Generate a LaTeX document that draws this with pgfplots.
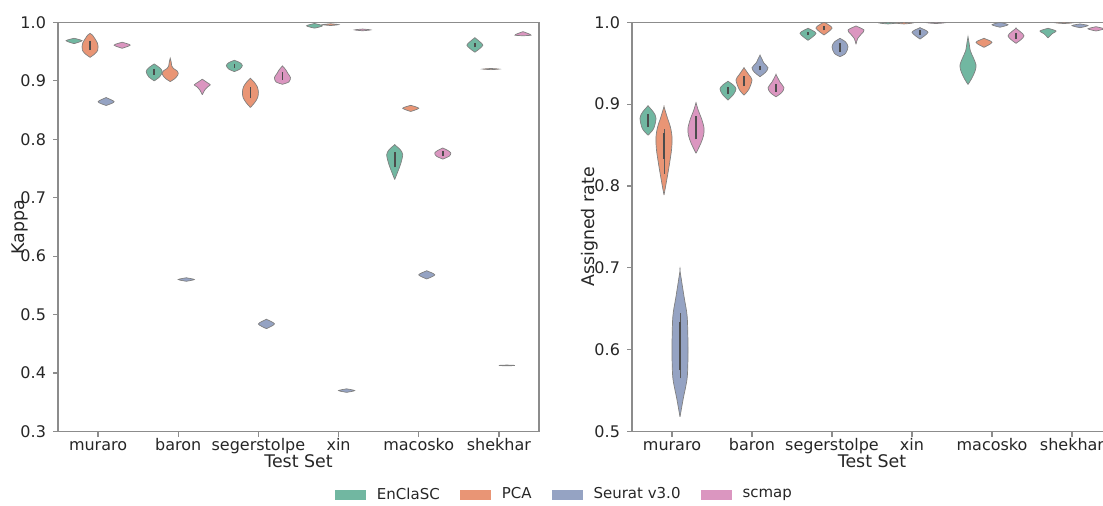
\documentclass[border=0pt]{standalone}
\usepackage{fontspec}
\setmainfont{DejaVu Sans}
\usepackage{pgfplots}
\pgfplotsset{compat=1.18}

\definecolor{cA}{RGB}{113,183,161}
\definecolor{cB}{RGB}{233,149,117}
\definecolor{cC}{RGB}{149,163,195}
\definecolor{cD}{RGB}{219,150,192}
\definecolor{txt}{RGB}{38,38,38}
\definecolor{spine}{RGB}{140,140,140}

% #1 centre x, #2 fill colour, #3 profile y/halfwidth from bottom tip to top tip
\newcommand\violin[3]{%
  \gdef\vR{}\gdef\vL{}%
  \foreach \yy/\ww in {#3}{%
    \pgfmathsetmacro\xr{#1+\ww}\pgfmathsetmacro\xl{#1-\ww}%
    \xdef\vR{\vR(\xr,\yy)}\xdef\vL{(\xl,\yy)\vL}}%
  \edef\vcmd{\noexpand\addplot[violin, fill=#2] coordinates {\vR\vL};}\vcmd}
% inner box: interquartile bar and whiskers
\newcommand\vbar[3]{\addplot[iqr] coordinates {(#1,#2) (#1,#3)};}
\newcommand\vwhisk[3]{\addplot[whisk] coordinates {(#1,#2) (#1,#3)};}

\pgfplotsset{
  panel/.style={
    scale only axis, height=204.6pt,
    xmin=-0.5, xmax=5.5,
    xtick={0,...,5}, xticklabels={muraro,baron,segerstolpe,xin,macosko,shekhar},
    tick align=outside, tick pos=left,
    major tick length=2.5pt,
    every tick/.append style={spine, line width=0.6pt},
    axis line style={spine, line width=0.6pt},
    tick label style={font=\fontsize{8}{9.6}\selectfont, text=txt},
    xticklabel style={text height=5.9pt, text depth=1.6pt, inner sep=0pt, anchor=north, yshift=-0.9pt},
    label style={font=\fontsize{8.7}{10.4}\selectfont, text=txt},
    /pgf/number format/assume math mode=true,
    yticklabel style={/pgf/number format/fixed, /pgf/number format/fixed zerofill, /pgf/number format/precision=1},
    xlabel={Test Set},
    xlabel style={at={(axis description cs:0.5,-0.073)}, anchor=center},
  },
  violin/.style={draw=black!50, line width=0.35pt, smooth, tension=0.5},
  iqr/.style={draw=black!70, line width=0.8pt},
  whisk/.style={draw=black!65, line width=0.35pt},
}

\begin{document}
\begin{tikzpicture}
% ---------------- Kappa ----------------
\begin{axis}[panel, at={(29pt,36.75pt)}, anchor=south west, width=240.5pt,
  ymin=0.3, ymax=1.0, ytick={0.3,0.4,...,1.0},
  ylabel={Kappa}, ylabel style={at={(axis description cs:-0.08,0.5)}, anchor=center},
  legend columns=4,
  legend style={draw=none, fill=none, at={(1.055,-0.155)}, anchor=center,
    font=\fontsize{7.5}{9}\selectfont, text=txt,
    /tikz/every odd column/.append style={column sep=3.5pt},
    /tikz/every even column/.append style={column sep=8pt}},
  legend image code/.code={\fill[#1, draw=none] (0pt,-2.6pt) rectangle (15.5pt,2.6pt);},
]
\addlegendimage{fill=cA}\addlegendentry{EnClaSC}
\addlegendimage{fill=cB}\addlegendentry{PCA}
\addlegendimage{fill=cC}\addlegendentry{Seurat v3.0}
\addlegendimage{fill=cD}\addlegendentry{scmap}
% muraro
\violin{-0.3}{cA}{0.9635/0, 0.966/0.06, 0.9686/0.1, 0.971/0.05, 0.9727/0}
\violin{-0.1}{cB}{0.940/0, 0.946/0.06, 0.952/0.095, 0.958/0.1, 0.965/0.09, 0.972/0.06, 0.978/0.03, 0.981/0}
\vbar{-0.1}{0.953}{0.968}
\violin{0.1}{cC}{0.8577/0, 0.864/0.1, 0.8713/0}
\violin{0.3}{cD}{0.9556/0, 0.961/0.1, 0.9659/0}
% baron
\violin{0.7}{cA}{0.8998/0, 0.907/0.07, 0.9157/0.1, 0.922/0.07, 0.9288/0}
\vbar{0.7}{0.910}{0.920}
\violin{0.9}{cB}{0.8986/0, 0.904/0.06, 0.910/0.095, 0.913/0.1, 0.917/0.085, 0.921/0.04, 0.925/0.02, 0.932/0.012, 0.9386/0}
\violin{1.1}{cC}{0.557/0, 0.560/0.1, 0.563/0}
\violin{1.3}{cD}{0.876/0, 0.884/0.03, 0.890/0.07, 0.893/0.1, 0.897/0.06, 0.9027/0}
% segerstolpe
\violin{1.7}{cA}{0.9157/0, 0.920/0.07, 0.926/0.1, 0.931/0.07, 0.935/0}
\vbar{1.7}{0.922}{0.929}
\violin{1.9}{cB}{0.8543/0, 0.862/0.05, 0.871/0.09, 0.8805/0.1, 0.890/0.085, 0.898/0.045, 0.9044/0}
\vbar{1.9}{0.870}{0.890}
\violin{2.1}{cC}{0.476/0, 0.484/0.1, 0.492/0}
\violin{2.3}{cD}{0.894/0, 0.898/0.08, 0.9055/0.1, 0.912/0.07, 0.919/0.04, 0.9254/0}
\vbar{2.3}{0.902}{0.915}
% xin
\violin{2.7}{cA}{0.990/0, 0.994/0.1, 0.998/0}
\violin{2.9}{cB}{0.9945/0, 0.996/0.1, 0.9975/0}
\violin{3.1}{cC}{0.367/0, 0.370/0.1, 0.373/0}
\violin{3.3}{cD}{0.9855/0, 0.987/0.1, 0.9885/0}
% macosko
\violin{3.7}{cA}{0.731/0, 0.745/0.04, 0.758/0.075, 0.7735/0.1, 0.782/0.07, 0.7906/0}
\vbar{3.7}{0.752}{0.778}
\violin{3.9}{cB}{0.8475/0, 0.853/0.1, 0.858/0}
\violin{4.1}{cC}{0.561/0, 0.568/0.1, 0.575/0}
\violin{4.3}{cD}{0.766/0, 0.771/0.08, 0.7765/0.1, 0.781/0.06, 0.785/0}
\vbar{4.3}{0.771}{0.779}
% shekhar
\violin{4.7}{cA}{0.9488/0, 0.955/0.06, 0.961/0.1, 0.967/0.06, 0.9737/0}
\vbar{4.7}{0.957}{0.965}
\violin{4.9}{cB}{0.9190/0, 0.920/0.1, 0.9210/0}
\violin{5.1}{cC}{0.4123/0, 0.413/0.1, 0.4137/0}
\violin{5.3}{cD}{0.977/0, 0.978/0.1, 0.981/0.06, 0.984/0}
\end{axis}

% ---------------- Assigned rate ----------------
\begin{axis}[panel, at={(316pt,36.75pt)}, anchor=south west, width=240pt,
  ymin=0.5, ymax=1.0, ytick={0.5,0.6,...,1.0},
  ylabel={Assigned rate}, ylabel style={at={(axis description cs:-0.089,0.5)}, anchor=center},
]
% muraro
\violin{-0.3}{cA}{0.862/0, 0.870/0.07, 0.8826/0.1, 0.890/0.07, 0.898/0}
\vbar{-0.3}{0.872}{0.888}
\violin{-0.1}{cB}{0.789/0, 0.805/0.03, 0.825/0.065, 0.845/0.095, 0.860/0.1, 0.872/0.08, 0.884/0.04, 0.897/0}
\vwhisk{-0.1}{0.815}{0.870}
\vbar{-0.1}{0.833}{0.865}
\violin{0.1}{cC}{0.5178/0, 0.540/0.04, 0.566/0.09, 0.600/0.1, 0.640/0.09, 0.665/0.05, 0.6963/0}
\vwhisk{0.1}{0.565}{0.645}
\vbar{0.1}{0.575}{0.634}
\violin{0.3}{cD}{0.840/0, 0.852/0.06, 0.862/0.095, 0.871/0.1, 0.882/0.07, 0.892/0.03, 0.9017/0}
\vbar{0.3}{0.857}{0.885}
% baron
\violin{0.7}{cA}{0.905/0, 0.912/0.07, 0.9185/0.1, 0.923/0.07, 0.928/0}
\vbar{0.7}{0.913}{0.921}
\violin{0.9}{cB}{0.911/0, 0.918/0.06, 0.9295/0.1, 0.936/0.06, 0.9445/0}
\vbar{0.9}{0.922}{0.935}
\violin{1.1}{cC}{0.9335/0, 0.939/0.07, 0.9445/0.1, 0.950/0.05, 0.955/0.025, 0.960/0}
\vbar{1.1}{0.942}{0.947}
\violin{1.3}{cD}{0.909/0, 0.914/0.07, 0.920/0.1, 0.927/0.05, 0.9364/0}
\vbar{1.3}{0.915}{0.925}
% segerstolpe
\violin{1.7}{cA}{0.978/0, 0.9866/0.1, 0.9927/0}
\vbar{1.7}{0.984}{0.988}
\violin{1.9}{cB}{0.9845/0, 0.9927/0.1, 0.998/0.04, 1.0/0}
\vbar{1.9}{0.990}{0.996}
\violin{2.1}{cC}{0.958/0, 0.962/0.07, 0.970/0.1, 0.976/0.07, 0.9804/0}
\vbar{2.1}{0.964}{0.975}
\violin{2.3}{cD}{0.973/0, 0.980/0.02, 0.986/0.07, 0.9906/0.1, 0.9955/0}
% xin
\violin{2.7}{cA}{0.998/0, 0.999/0.1, 1.0/0}
\violin{2.9}{cB}{0.998/0, 0.999/0.1, 1.0/0}
\violin{3.1}{cC}{0.9796/0, 0.9878/0.1, 0.9934/0}
\vbar{3.1}{0.985}{0.990}
\violin{3.3}{cD}{0.9985/0, 0.9993/0.1, 1.0/0}
% macosko
\violin{3.7}{cA}{0.924/0, 0.932/0.05, 0.941/0.09, 0.948/0.1, 0.956/0.07, 0.965/0.03, 0.975/0.013, 0.9824/0}
\violin{3.9}{cB}{0.9694/0, 0.9755/0.1, 0.9804/0}
\violin{4.1}{cC}{0.994/0, 0.997/0.1, 1.0/0}
\violin{4.3}{cD}{0.9743/0, 0.9833/0.1, 0.9927/0}
\vbar{4.3}{0.980}{0.987}
% shekhar
\violin{4.7}{cA}{0.981/0, 0.986/0.05, 0.9894/0.1, 0.9927/0}
\violin{4.9}{cB}{0.9985/0, 0.9993/0.1, 1.0/0}
\violin{5.1}{cC}{0.9934/0, 0.996/0.1, 0.998/0}
\violin{5.3}{cD}{0.9894/0, 0.992/0.1, 0.9946/0}
\end{axis}
\pgfresetboundingbox
\path[use as bounding box] (0,0) rectangle (551.5pt,252.5pt);
\end{tikzpicture}
\end{document}
